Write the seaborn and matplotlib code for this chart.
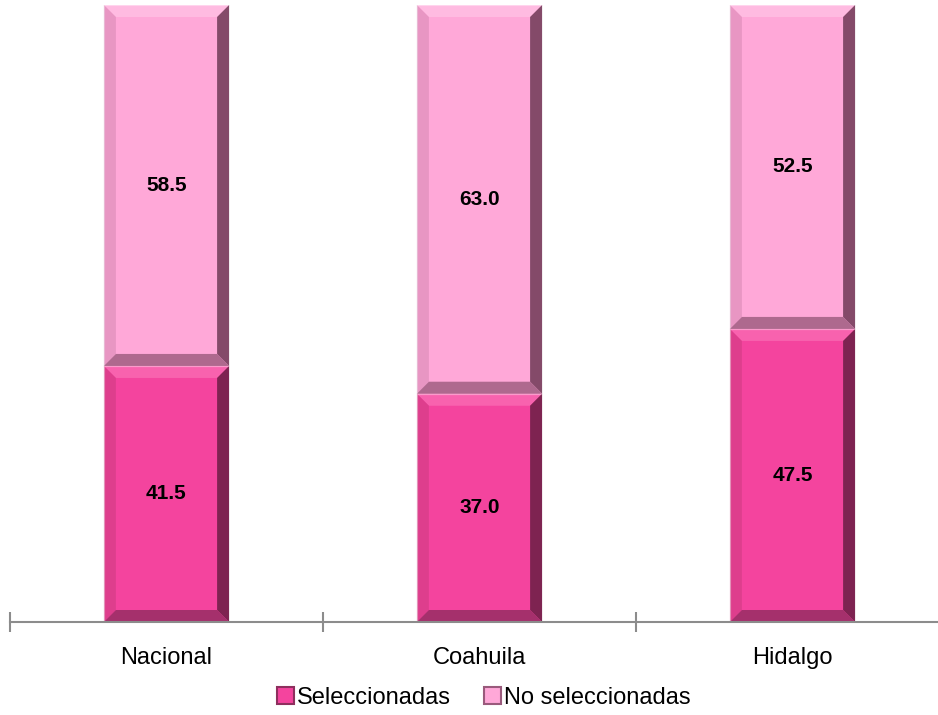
import pandas as pd
import matplotlib.pyplot as plt
import seaborn as sns
from matplotlib.patches import Polygon
from matplotlib.transforms import IdentityTransform

categories = ["Nacional", "Coahuila", "Hidalgo"]
seleccionadas = [41.5, 37.0, 47.5]
no_seleccionadas = [58.5, 63.0, 52.5]

df = pd.DataFrame({
    "region": categories,
    "sel": seleccionadas,
    "nosel": no_seleccionadas,
})

sns.set_style("white")
plt.rcParams["font.family"] = ["Liberation Sans", "DejaVu Sans"]

fig = plt.figure(figsize=(9.38, 7.15), dpi=100)
ax = fig.add_axes([10 / 938, 93 / 715, 939 / 938, 617 / 715])

dark = "#F4449E"
light = "#FFA8D8"

sns.barplot(data=df, x="region", y="sel", color=dark, width=0.4, saturation=1,
            edgecolor="white", linewidth=0.8, ax=ax, label="Seleccionadas")
n_sel = len(ax.patches)
sns.barplot(data=df, x="region", y="nosel", color=light, width=0.4, saturation=1,
            edgecolor="white", linewidth=0.8, ax=ax, label="No seleccionadas")
# apilar: los segmentos claros empiezan donde termina el oscuro
for p, s in zip(ax.patches[n_sel:], seleccionadas):
    p.set_y(s)

ax.set_xlim(-0.5, 2.5)
ax.set_ylim(0, 100)

# efecto de bisel en cada barra (calculado a partir de los rectangulos)
fig.canvas.draw()
bevel = 12
for p in list(ax.patches):
    x0, y0, x1, y1 = p.get_window_extent().extents
    fc = p.get_facecolor()
    if fc[1] > 0.5:
        shades = {"top": ("#FFC4E6", 0.7), "left": ("#D98AB6", 0.6),
                  "right": ("#6E3A56", 0.85), "bottom": ("#9A5A7C", 0.8)}
    else:
        shades = {"top": ("#FA70B6", 0.7), "left": ("#CC3A80", 0.55),
                  "right": ("#6A1E44", 0.85), "bottom": ("#922C60", 0.8)}
    b = bevel
    polys = {
        "top": [(x0, y1), (x1, y1), (x1 - b, y1 - b), (x0 + b, y1 - b)],
        "left": [(x0, y0), (x0, y1), (x0 + b, y1 - b), (x0 + b, y0 + b)],
        "right": [(x1, y0), (x1, y1), (x1 - b, y1 - b), (x1 - b, y0 + b)],
        "bottom": [(x0, y0), (x1, y0), (x1 - b, y0 + b), (x0 + b, y0 + b)],
    }
    for side, pts in polys.items():
        c, a = shades[side]
        ax.add_patch(Polygon(pts, closed=True, transform=IdentityTransform(),
                             facecolor=c, edgecolor="none", alpha=a,
                             zorder=p.get_zorder() + 0.1))

# etiquetas de valores
for i, (s, n) in enumerate(zip(seleccionadas, no_seleccionadas)):
    ax.text(i, s / 2, f"{s:.1f}", ha="center", va="center",
            fontsize=15, fontweight="bold", color="black", zorder=5)
    ax.text(i, s + n / 2, f"{n:.1f}", ha="center", va="center",
            fontsize=15, fontweight="bold", color="black", zorder=5)

ax.set_xlabel("")
ax.set_ylabel("")
ax.set_yticks([])
for side in ["top", "right", "left"]:
    ax.spines[side].set_visible(False)
ax.spines["bottom"].set_color("#8C8C8C")
ax.spines["bottom"].set_linewidth(1.5)
ax.spines["bottom"].set_zorder(6)
ax.set_xticks([-0.5, 0.5, 1.5, 2.5], minor=False)
ax.set_xticklabels([])
ax.tick_params(axis="x", which="major", direction="inout", length=14,
               width=1.5, color="#8C8C8C", bottom=True)
ax.set_xticks([0, 1, 2], minor=True)
ax.set_xticklabels(categories, minor=True, fontsize=17, color="black")
ax.tick_params(axis="x", which="minor", length=0, pad=18, labelcolor="black")

handles, labels = ax.get_legend_handles_labels()
order = [labels.index("Seleccionadas"), labels.index("No seleccionadas")]
leg = fig.legend([handles[k] for k in order], [labels[k] for k in order],
                 loc="center", bbox_to_anchor=(484 / 938, 1 - 698 / 715), ncol=2,
                 frameon=False, fontsize=17, handlelength=0.7, handleheight=0.7,
                 handletextpad=0.15, columnspacing=1.4)
for t in leg.get_texts():
    t.set_color("black")
for h, ec in zip(leg.legend_handles, ["#8E2F5E", "#9A5A7C"]):
    h.set_edgecolor(ec)
    h.set_linewidth(1.5)
if ax.get_legend() is not None:
    ax.get_legend().remove()

fig.savefig("out.png", dpi=100)
